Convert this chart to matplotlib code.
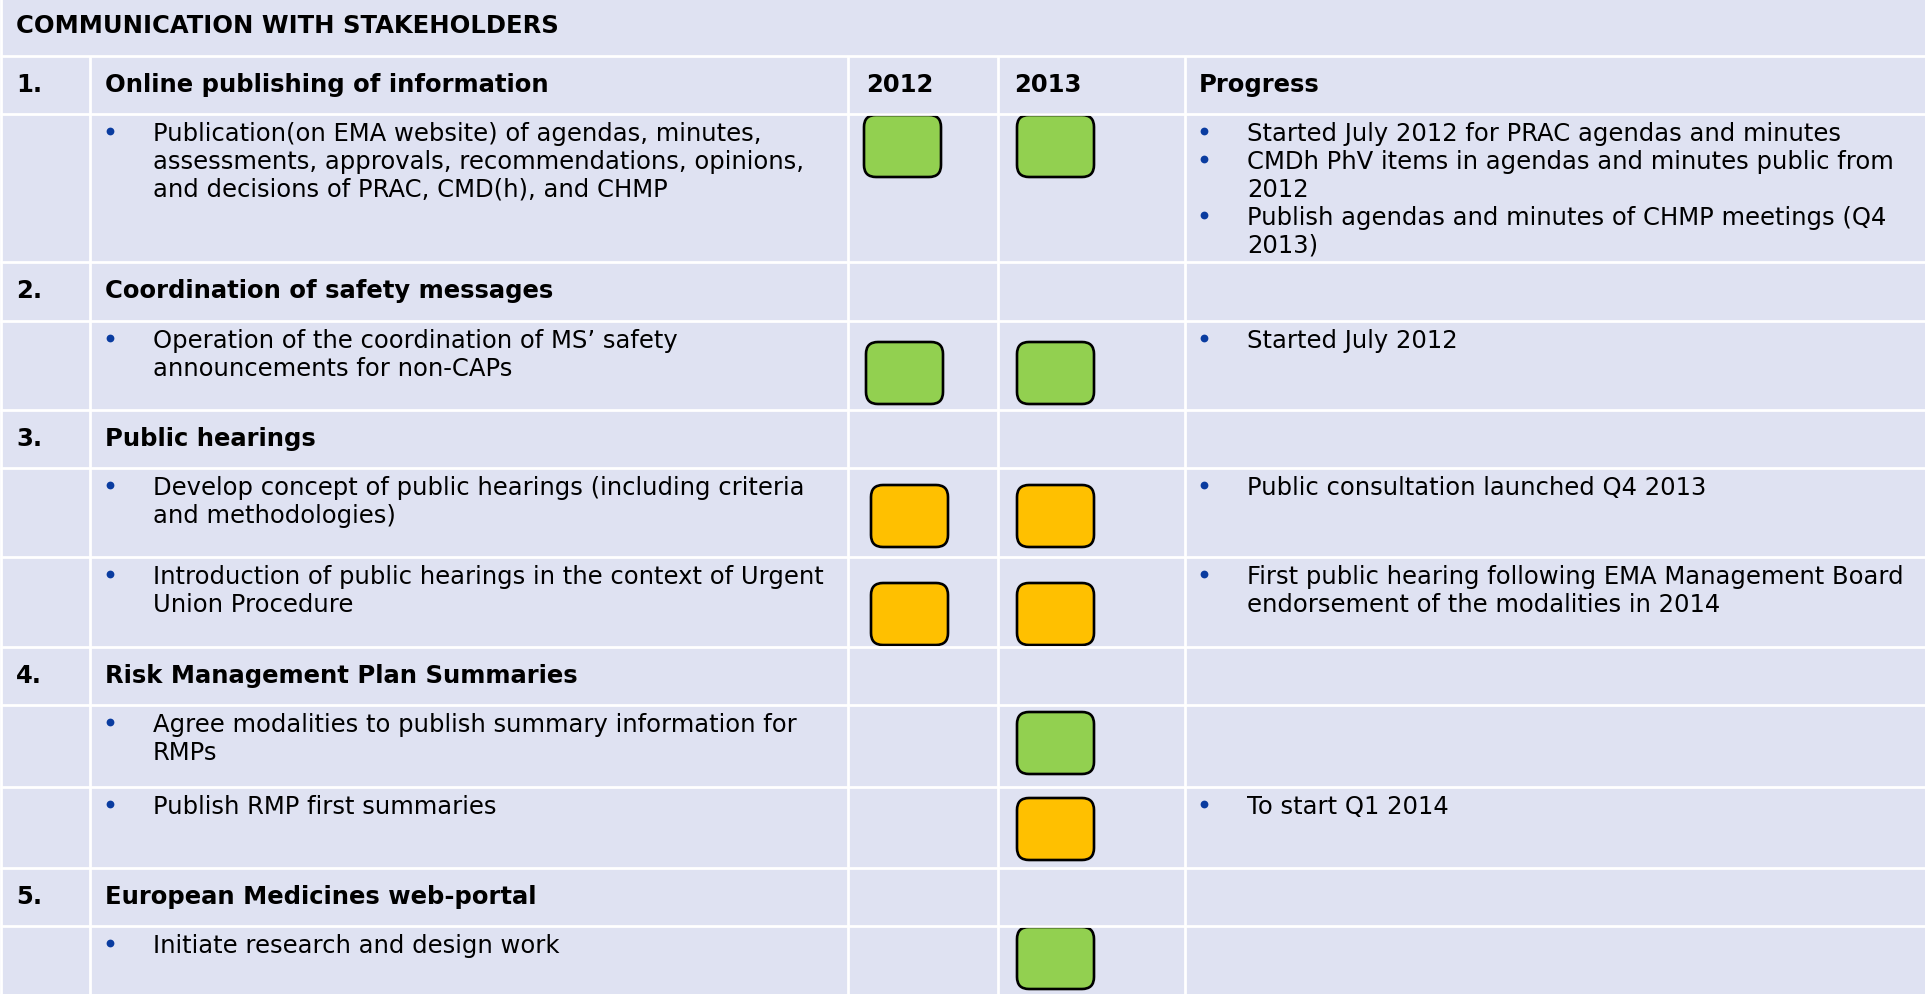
import matplotlib
matplotlib.use("Agg")
import matplotlib.pyplot as plt
from matplotlib.patches import FancyBboxPatch

# ---- data ----
title = "COMMUNICATION WITH STAKEHOLDERS"
year_cols = ["2012", "2013"]
progress_head = "Progress"

sections = [
    ("1.", "Online publishing of information"),
    ("2.", "Coordination of safety messages"),
    ("3.", "Public hearings"),
    ("4.", "Risk Management Plan Summaries"),
    ("5.", "European Medicines web-portal"),
]

# index of the section each item belongs to
item_section = [0, 1, 2, 2, 3, 3, 4]

item_text = [
    ["Publication(on EMA website) of agendas, minutes,",
     "assessments, approvals, recommendations, opinions,",
     "and decisions of PRAC, CMD(h), and CHMP"],
    ["Operation of the coordination of MS\u2019 safety",
     "announcements for non-CAPs"],
    ["Develop concept of public hearings (including criteria",
     "and methodologies)"],
    ["Introduction of public hearings in the context of Urgent",
     "Union Procedure"],
    ["Agree modalities to publish summary information for",
     "RMPs"],
    ["Publish RMP first summaries"],
    ["Initiate research and design work"],
]

# status per year: 'g' = on track (green), 'a' = ongoing (amber), None = empty
status_2012 = ["g", "g", "a", "a", None, None, None]
status_2013 = ["g", "g", "a", "a", "g", "a", "g"]

progress = [
    [["Started July 2012 for PRAC agendas and minutes"],
     ["CMDh PhV items in agendas and minutes public from", "2012"],
     ["Publish agendas and minutes of CHMP meetings (Q4", "2013)"]],
    [["Started July 2012"]],
    [["Public consultation launched Q4 2013"]],
    [["First public hearing following EMA Management Board",
      "endorsement of the modalities in 2014"]],
    [],
    [["To start Q1 2014"]],
    [],
]

# ---- layout (pixel units of the page) ----
W, H = 1925, 995
BG = "#dfe2f2"
BLUE = "#0a3ca0"
STATUS_COL = {"g": "#92d050", "a": "#ffc000"}
FS = 17.5
LINE = 28

col_x = [0, 90, 848, 998, 1185, W]
# row edges: title, header 1, item, header 2, item, header 3, item, item,
# header 4, item, item, header 5, item
row_y = [0, 57, 115, 263, 322, 411, 469, 558, 648, 706, 788, 869, 927, H]
row_kind = ["title", "sec", "item", "sec", "item", "sec", "item", "item",
            "sec", "item", "item", "sec", "item"]
box_x = [[864, 1017], [866, 1017], [871, 1017], [871, 1017],
         [871, 1017], [871, 1017], [871, 1017]]
box_top = [0, 20, 16, 25, 6, 10, 0]
BOX_W, BOX_H = 77, 62


def bullet(x, base):
    # round blue bullet sitting at mid x-height
    ax.plot([x], [base - 9], "o", color=BLUE, markersize=5.6, markeredgewidth=0)


fig = plt.figure(figsize=(W / 100, H / 100), dpi=100, facecolor=BG)
ax = fig.add_axes([0, 0, 1, 1])
ax.set_xlim(0, W)
ax.set_ylim(H, 0)
ax.axis("off")
ax.set_facecolor(BG)

# grid lines
for y in row_y[1:-1]:
    ax.plot([0, W], [y, y], color="white", lw=2.0, solid_capstyle="butt")
for x in col_x[1:-1]:
    ax.plot([x, x], [row_y[1], H], color="white", lw=2.0, solid_capstyle="butt")
ax.plot([1, 1], [0, H], color="white", lw=2.0)

ax.text(16, 33, title, fontsize=FS, fontweight="bold", va="baseline")

sec_i = 0
item_i = 0
for r, kind in enumerate(row_kind):
    top = row_y[r]
    if kind == "sec":
        num, name = sections[sec_i]
        base = top + 35
        ax.text(16, base, num, fontsize=FS, fontweight="bold", va="baseline")
        ax.text(105, base, name, fontsize=FS, fontweight="bold", va="baseline")
        if sec_i == 0:
            ax.text(866, base, year_cols[0], fontsize=FS, fontweight="bold", va="baseline")
            ax.text(1014, base, year_cols[1], fontsize=FS, fontweight="bold", va="baseline")
            ax.text(1199, base, progress_head, fontsize=FS, fontweight="bold", va="baseline")
        sec_i += 1
    elif kind == "item":
        base = top + 26
        bullet(110, base)
        for k, line in enumerate(item_text[item_i]):
            ax.text(153, base + k * LINE, line, fontsize=FS, va="baseline")
        y = base
        for entry in progress[item_i]:
            bullet(1204, y)
            for line in entry:
                ax.text(1247, y, line, fontsize=FS, va="baseline")
                y += LINE
        for j, st in enumerate([status_2012[item_i], status_2013[item_i]]):
            if st is None:
                continue
            bx = box_x[item_i][j]
            by = top + box_top[item_i] + 1
            ax.add_patch(FancyBboxPatch((bx, by), BOX_W, BOX_H,
                                        boxstyle="round,pad=0,rounding_size=12",
                                        facecolor=STATUS_COL[st], edgecolor="black",
                                        lw=1.9))
        item_i += 1

fig.savefig("out.png", dpi=100, facecolor=BG)
